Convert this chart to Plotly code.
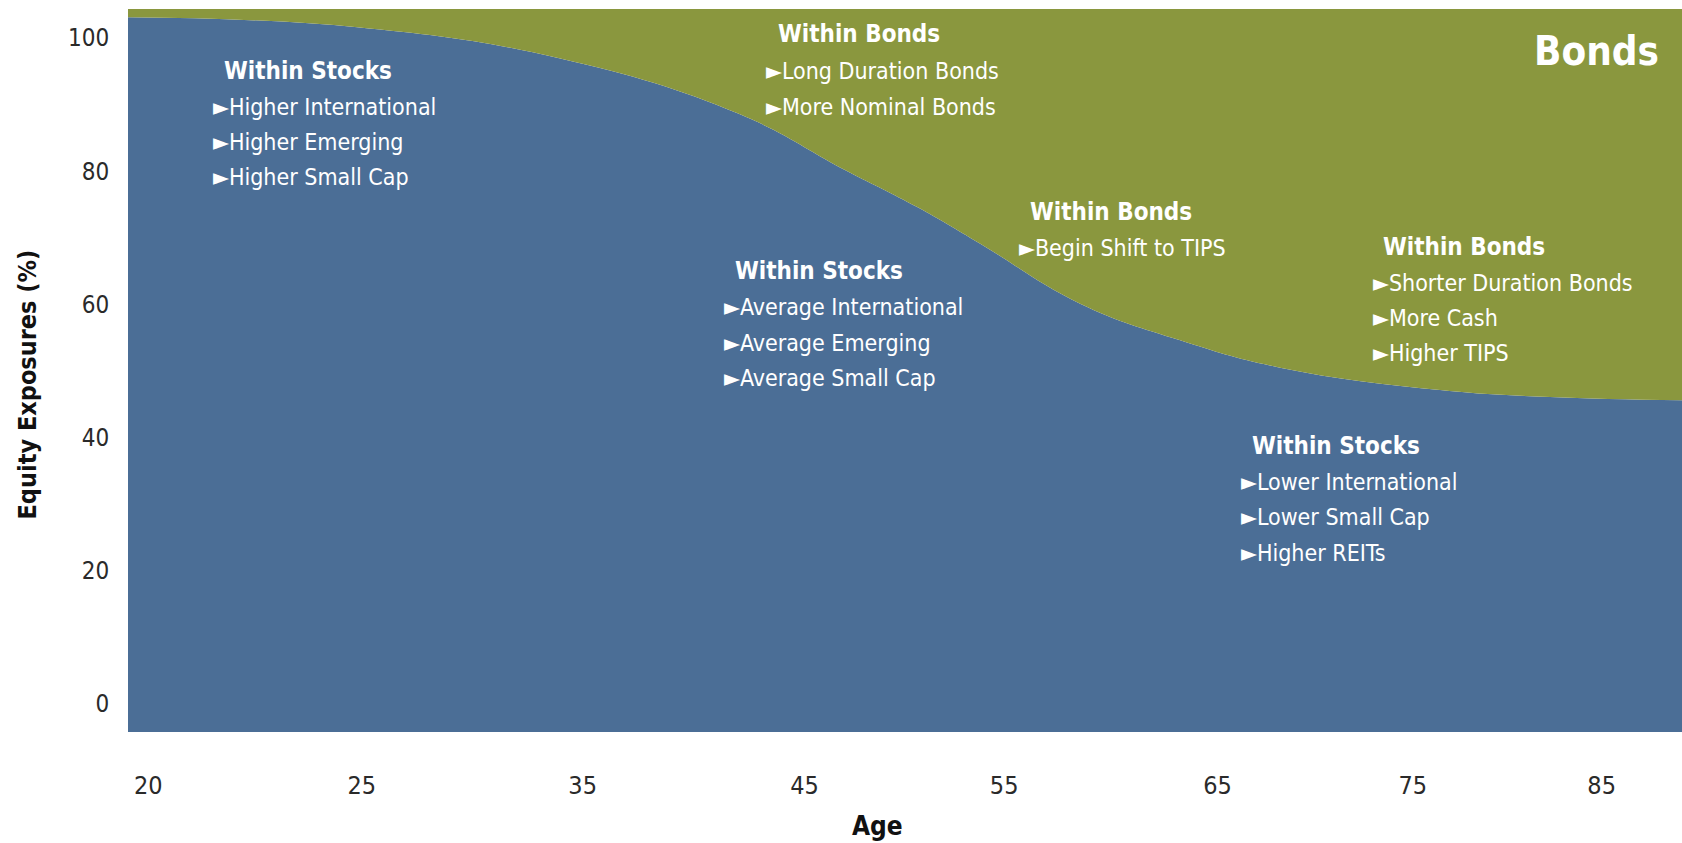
import plotly.graph_objects as go

# ---------------- data ----------------
tick_pos = [0.0, 1.028, 2.092, 3.161, 4.122, 5.150, 6.090, 7.0]
tick_labels = ["20", "25", "35", "45", "55", "65", "75", "85"]
y_tick_vals = [0, 20, 40, 60, 80, 100]

glide_pos = [-0.098, 1.006, 1.984, 2.844, 3.360, 3.703, 4.007,
             4.488, 4.970, 5.451, 6.234, 6.751, 7.387]
equity_pct = [103.1, 101.6, 96.9, 88.6, 80.1, 74.6, 69.1,
              60.1, 54.6, 50.5, 47.1, 46.1, 45.6]

groups = [
    ("Within Stocks", ["Higher International", "Higher Emerging", "Higher Small Cap"]),
    ("Within Bonds", ["Long Duration Bonds", "More Nominal Bonds"]),
    ("Within Bonds", ["Begin Shift to TIPS"]),
    ("Within Stocks", ["Average International", "Average Emerging", "Average Small Cap"]),
    ("Within Bonds", ["Shorter Duration Bonds", "More Cash", "Higher TIPS"]),
    ("Within Stocks", ["Lower International", "Lower Small Cap", "Higher REITs"]),
]

# ---------------- layout constants ----------------
W, H = 1682, 843
L, R, T, B = 127.7, 1682.0, 8.6, 731.6
X_RANGE = [-0.098, 7.387]
Y_RANGE = [-4.19, 104.34]

BLUE = "rgb(75,110,150)"
GREEN = "rgb(138,151,62)"
FONT = "Liberation Sans Narrow, DejaVu Sans Condensed, Arial Narrow, sans-serif"


def px_to_x(px):
    return X_RANGE[0] + (px - L) / (R - L) * (X_RANGE[1] - X_RANGE[0])


def py_to_y(py):
    return Y_RANGE[1] - (py - T) / (B - T) * (Y_RANGE[1] - Y_RANGE[0])


# group placement in pixels: header-left, header-y, bullet-left, first-bullet-y
group_pos = [
    (222.0, 70.8, 211.0, 106.2),
    (775.6, 33.3, 763.8, 70.8),
    (1027.7, 211.3, 1016.9, 247.8),
    (732.6, 270.3, 722.0, 306.8),
    (1380.6, 246.7, 1371.0, 282.1),
    (1249.7, 445.2, 1239.0, 481.6),
]
LINE = 35.4

fig = go.Figure()

y_min = [Y_RANGE[0]] * len(glide_pos)
y_max = [Y_RANGE[1]] * len(glide_pos)

fig.add_trace(go.Scatter(x=glide_pos, y=y_min, mode="lines",
                         line=dict(width=0, color=BLUE), hoverinfo="skip",
                         showlegend=False))
fig.add_trace(go.Scatter(x=glide_pos, y=equity_pct, mode="lines",
                         line=dict(width=0, color=BLUE, shape="spline", smoothing=1.2),
                         fill="tonexty", fillcolor=BLUE, name="Stocks",
                         showlegend=False))
fig.add_trace(go.Scatter(x=glide_pos, y=y_max, mode="lines",
                         line=dict(width=0, color=GREEN), fill="tonexty",
                         fillcolor=GREEN, name="Bonds", hoverinfo="skip",
                         showlegend=False))

annotations = []
for (header, bullets), (hx, hy, bx, by) in zip(groups, group_pos):
    annotations.append(dict(
        x=px_to_x(hx), y=py_to_y(hy), xref="x", yref="y",
        text="<b>" + header + "</b>", showarrow=False,
        xanchor="left", yanchor="middle",
        font=dict(family=FONT, size=24, color="white")))
    for i, b in enumerate(bullets):
        annotations.append(dict(
            x=px_to_x(bx), y=py_to_y(by + i * LINE), xref="x", yref="y",
            text="\u25BA" + b,
            showarrow=False, xanchor="left", yanchor="middle",
            font=dict(family=FONT, size=23, color="white")))

annotations.append(dict(
    x=px_to_x(1661), y=py_to_y(50.5), xref="x", yref="y",
    text="<b>Bonds</b>", showarrow=False, xanchor="right", yanchor="middle",
    font=dict(family=FONT, size=40, color="white")))

annotations.append(dict(
    x=(877.5 - L) / (R - L), y=(B - 826) / (B - T), xref="paper", yref="paper",
    text="<b>Age</b>", showarrow=False, xanchor="center", yanchor="middle",
    font=dict(family=FONT, size=26, color="#111111")))
annotations.append(dict(
    x=(26.8 - L) / (R - L), y=(B - 384) / (B - T), xref="paper", yref="paper",
    text="<b>Equity Exposures (%)</b>", showarrow=False, textangle=-90,
    xanchor="center", yanchor="middle",
    font=dict(family=FONT, size=25, color="#111111")))

fig.update_layout(
    width=W, height=H,
    margin=dict(l=L, r=W - R, t=T, b=H - B, pad=0),
    paper_bgcolor="white", plot_bgcolor="white",
    annotations=annotations,
    xaxis=dict(range=X_RANGE, tickvals=tick_pos, ticktext=tick_labels,
               showgrid=False, zeroline=False, showline=False,
               ticks="outside", ticklen=31, tickcolor="rgba(0,0,0,0)",
               tickfont=dict(family=FONT, size=25, color="#2a2a2a")),
    yaxis=dict(range=Y_RANGE, tickvals=y_tick_vals,
               showgrid=False, zeroline=False, showline=False,
               ticks="outside", ticklen=13, tickcolor="rgba(0,0,0,0)",
               tickfont=dict(family=FONT, size=24, color="#2a2a2a")),
)

fig.write_html("out.html")
